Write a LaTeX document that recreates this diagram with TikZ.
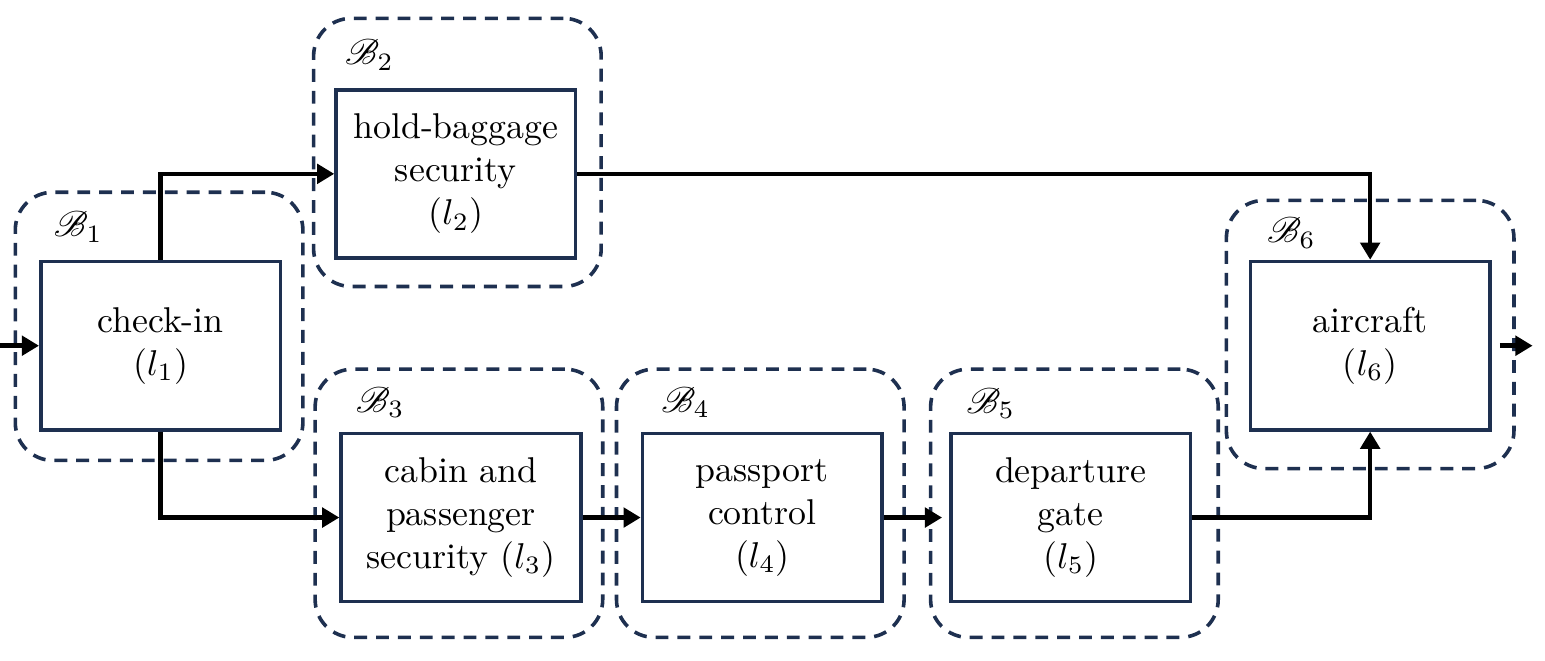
\documentclass[tikz,border=0pt]{standalone}
\usepackage{mathrsfs}
\usetikzlibrary{positioning, calc, arrows.meta}
\definecolor{navy}{RGB}{30,48,80}
\tikzstyle{stage} = [
    rectangle,
    minimum width=2.35cm,
    minimum height=1.65cm,
    align=center,
    line width=1pt,
    draw=navy
]
\tikzstyle{block} = [
    rectangle,
    rounded corners=0.37cm,
    minimum width=2.82cm,
    minimum height=2.63cm,
    line width=1pt,
    dash pattern=on 3.6pt off 2.5pt,
    draw=navy
]
\tikzstyle{blocklabel} = [anchor=north west, inner sep=0pt]
\tikzstyle{arrow} = [line width=1.25pt, -{Triangle[length=4.8pt,width=5.4pt]}]

\begin{document}
\begin{tikzpicture}

\useasboundingbox (-1.575,3.39) rectangle (13.575,-3.085);

\node (l1) [stage] at (0,0) {check-in\\($l_1$)};

\node (l2) [stage, above right=0cm and 0.51cm of l1]
{hold-baggage\\security\\($l_2$)};

\node (l3) [stage, below right=0cm and 0.56cm of l1]
{cabin and\\passenger\\security ($l_3$)};

\node (l4) [stage, right=0.57cm of l3]
{passport\\control\\($l_4$)};

\node (l5) [stage, right=0.64cm of l4]
{departure\\gate\\($l_5$)};

\node (l6) [stage, above right=0cm and 0.55cm of l5]
{aircraft\\($l_6$)};

% dashed blocks
\node (r1) [block] at ($(l1)+(-0.015,0.19)$) {};
\node (r2) [block] at ($(l2)+(0.015,0.21)$) {};
\node (r3) [block] at ($(l3)+(-0.02,0.14)$) {};
\node (r4) [block] at ($(l4)+(-0.02,0.14)$) {};
\node (r5) [block] at ($(l5)+(0.035,0.14)$) {};
\node (r6) [block] at ($(l6)+(0.0,0.11)$) {};

\node [blocklabel] at ($(r1.north west)+(0.39,-0.2)$) {$\mathscr{B}_1$};
\node [blocklabel] at ($(r2.north west)+(0.32,-0.22)$) {$\mathscr{B}_2$};
\node [blocklabel] at ($(r3.north west)+(0.41,-0.19)$) {$\mathscr{B}_3$};
\node [blocklabel] at ($(r4.north west)+(0.45,-0.19)$) {$\mathscr{B}_4$};
\node [blocklabel] at ($(r5.north west)+(0.36,-0.2)$) {$\mathscr{B}_5$};
\node [blocklabel] at ($(r6.north west)+(0.41,-0.18)$) {$\mathscr{B}_6$};

\coordinate (in) at (-1.575,0);
\coordinate (out) at ($(l6.east)+(0.40,0)$);

\draw [arrow] (in) -- (l1);
\draw [arrow] (l1.north) |- (l2.west);
\draw [arrow] (l1.south) |- (l3.west);
\draw [arrow] (l3) -- (l4);
\draw [arrow, shorten >=0.07cm] (l4) -- (l5);
\draw [arrow] (l2.east) -| (l6.north);
\draw [arrow] (l5.east) -| (l6.south);
\draw [arrow, shorten <=0.08cm] (l6.east) -- (out);

\end{tikzpicture}
\end{document}
